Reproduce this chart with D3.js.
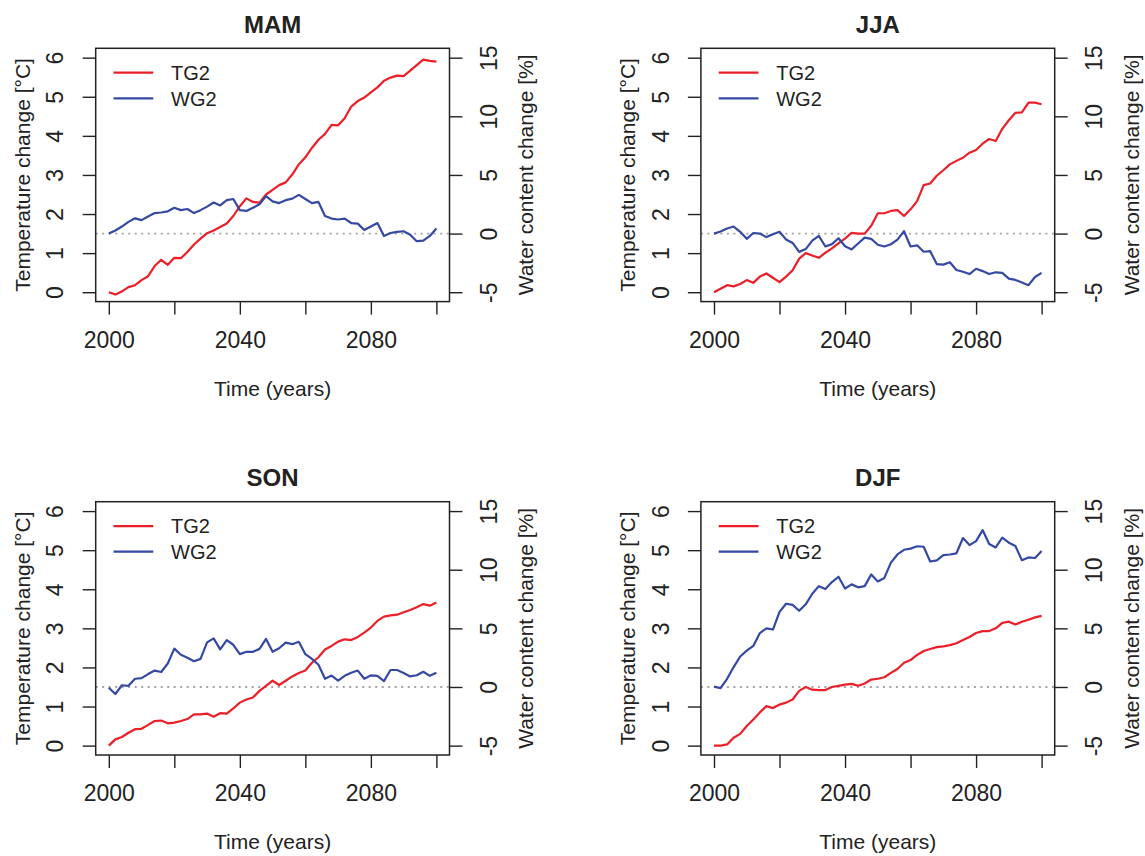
<!DOCTYPE html>
<html>
<head>
<meta charset="utf-8">
<script src="https://cdn.jsdelivr.net/npm/d3@7"></script>
<style>
  body { margin: 0; background: #fff; }
  svg { font-family: "Liberation Sans", Arial, sans-serif; }
</style>
</head>
<body>
<div id="chart"></div>
<script>

// years on the x axis (read every second year)
var years = [2000, 2002, 2004, 2006, 2008, 2010, 2012, 2014, 2016, 2018,
  2020, 2022, 2024, 2026, 2028, 2030, 2032, 2034, 2036, 2038,
  2040, 2042, 2044, 2046, 2048, 2050, 2052, 2054, 2056, 2058,
  2060, 2062, 2064, 2066, 2068, 2070, 2072, 2074, 2076, 2078,
  2080, 2082, 2084, 2086, 2088, 2090, 2092, 2094, 2096, 2098, 2100];

var seasons = ["MAM", "JJA", "SON", "DJF"];
var seriesNames = ["TG2", "WG2"];

// temperature change [°C]
var mamTG2 = [0.00, -0.06, 0.02, 0.13, 0.18, 0.31, 0.41, 0.67, 0.83, 0.70,
  0.88, 0.87, 1.03, 1.22, 1.37, 1.51, 1.58, 1.67, 1.76, 1.95,
  2.20, 2.40, 2.31, 2.29, 2.50, 2.62, 2.74, 2.81, 3.01, 3.27,
  3.45, 3.69, 3.90, 4.05, 4.28, 4.27, 4.45, 4.75, 4.89, 4.98,
  5.11, 5.24, 5.41, 5.49, 5.54, 5.53, 5.67, 5.81, 5.95, 5.92, 5.90];
var jjaTG2 = [0.00, 0.09, 0.18, 0.15, 0.21, 0.31, 0.24, 0.40, 0.48, 0.37,
  0.26, 0.40, 0.56, 0.86, 1.00, 0.94, 0.88, 1.01, 1.12, 1.25,
  1.37, 1.52, 1.50, 1.50, 1.70, 2.02, 2.02, 2.08, 2.10, 1.95,
  2.12, 2.33, 2.74, 2.78, 2.98, 3.12, 3.27, 3.36, 3.44, 3.57,
  3.64, 3.80, 3.92, 3.87, 4.18, 4.40, 4.59, 4.60, 4.85, 4.85, 4.81];
var sonTG2 = [0.00, 0.16, 0.22, 0.33, 0.42, 0.43, 0.53, 0.63, 0.64, 0.57,
  0.59, 0.63, 0.68, 0.80, 0.80, 0.82, 0.74, 0.83, 0.82, 0.95,
  1.10, 1.18, 1.23, 1.40, 1.53, 1.66, 1.55, 1.66, 1.77, 1.86,
  1.92, 2.12, 2.26, 2.46, 2.55, 2.66, 2.72, 2.70, 2.78, 2.89,
  3.02, 3.19, 3.30, 3.33, 3.35, 3.41, 3.47, 3.54, 3.62, 3.58, 3.66];
var djfTG2 = [0.00, 0.00, 0.03, 0.20, 0.30, 0.50, 0.67, 0.85, 1.01, 0.96,
  1.05, 1.10, 1.18, 1.40, 1.50, 1.43, 1.42, 1.42, 1.50, 1.53,
  1.56, 1.58, 1.53, 1.59, 1.69, 1.71, 1.75, 1.86, 1.96, 2.12,
  2.19, 2.32, 2.42, 2.47, 2.52, 2.54, 2.57, 2.62, 2.70, 2.78,
  2.88, 2.93, 2.93, 3.00, 3.14, 3.17, 3.10, 3.17, 3.22, 3.28, 3.32];

// water content change [%]
var mamWG2 = [0.0, 0.26, 0.6, 1.0, 1.3, 1.15, 1.45, 1.75, 1.8, 1.9,
  2.2, 2.0, 2.1, 1.75, 2.0, 2.3, 2.65, 2.4, 2.85, 2.95,
  2.0, 1.93, 2.2, 2.5, 3.2, 2.75, 2.6, 2.85, 2.98, 3.3,
  2.95, 2.6, 2.7, 1.5, 1.28, 1.2, 1.28, 0.9, 0.85, 0.3,
  0.6, 0.9, -0.2, 0.05, 0.14, 0.2, -0.1, -0.65, -0.6, -0.2, 0.43];
var jjaWG2 = [0.0, 0.18, 0.43, 0.6, 0.15, -0.45, 0.05, 0.0, -0.3, -0.05,
  0.15, -0.5, -0.8, -1.56, -1.32, -0.6, -0.2, -1.1, -0.9, -0.4,
  -1.08, -1.35, -0.85, -0.35, -0.45, -0.95, -1.1, -0.91, -0.51, 0.2,
  -1.1, -1.0, -1.55, -1.5, -2.6, -2.65, -2.45, -3.1, -3.25, -3.45,
  -3.0, -3.2, -3.45, -3.3, -3.35, -3.84, -3.95, -4.18, -4.4, -3.7, -3.35];
var sonWG2 = [-0.06, -0.6, 0.15, 0.1, 0.7, 0.75, 1.1, 1.4, 1.28, 2.0,
  3.27, 2.75, 2.5, 2.2, 2.4, 3.8, 4.15, 3.21, 4.0, 3.6,
  2.8, 3.0, 3.0, 3.25, 4.1, 3.0, 3.3, 3.78, 3.65, 3.85,
  2.8, 2.4, 1.9, 0.7, 0.97, 0.55, 0.95, 1.22, 1.4, 0.7,
  0.99, 0.95, 0.5, 1.45, 1.45, 1.2, 0.9, 1.0, 1.3, 0.95, 1.22];
var djfWG2 = [0.03, -0.1, 0.7, 1.7, 2.6, 3.1, 3.5, 4.6, 5.0, 4.9,
  6.4, 7.1, 7.0, 6.5, 7.05, 7.95, 8.6, 8.35, 8.95, 9.4,
  8.4, 8.75, 8.5, 8.6, 9.6, 9.0, 9.3, 10.6, 11.3, 11.7,
  11.8, 12.0, 11.96, 10.7, 10.8, 11.25, 11.3, 11.4, 12.7, 12.1,
  12.44, 13.38, 12.2, 11.9, 12.73, 12.3, 12.02, 10.8, 11.05, 11.0, 11.59];

var tempTicks = [0, 1, 2, 3, 4, 5, 6];
var waterTicks = [-5, 0, 5, 10, 15];
var yearTicks = [2000, 2020, 2040, 2060, 2080, 2100];
var yearLabels = [2000, 2040, 2080];

var tgBySeason = [mamTG2, jjaTG2, sonTG2, djfTG2];
var wgBySeason = [mamWG2, jjaWG2, sonWG2, djfWG2];

var width = 1145, height = 856;
var box = {left: 95.7, right: 449.5, top: 48.3, bottom: 301.6};
var colStep = 605.2, rowStep = 453.4;
var ink = "#222";
var red = "#ec1f28", blue = "#3549a3";

var svg = d3.select("#chart").append("svg")
  .attr("width", width)
  .attr("height", height);

// R style: axis range padded by 4% at each end
var x = d3.scaleLinear().domain([1996, 2104]).range([box.left, box.right]);
var yT = d3.scaleLinear().domain([-0.24, 6.24]).range([box.bottom, box.top]);
var yW = d3.scaleLinear().domain([-5.8, 15.8]).range([box.bottom, box.top]);

var tLine = function(vals) {
  return d3.line().x(function(d, i) { return x(years[i]); }).y(function(d) { return yT(d); })(vals);
};
var wLine = function(vals) {
  return d3.line().x(function(d, i) { return x(years[i]); }).y(function(d) { return yW(d); })(vals);
};

// plain hyphen minus, as R prints it
var plain = function(d) { return String(d); };

function styleAxis(ax) {
  ax.attr("font-family", null).attr("font-size", null);
  ax.select(".domain").remove();
  ax.selectAll(".tick line").attr("stroke", ink).attr("stroke-width", 1.4);
  ax.selectAll(".tick text").attr("fill", ink).attr("font-size", 23);
}

seasons.forEach(function(season, i) {

  var g = svg.append("g")
    .attr("transform", "translate(" + (i % 2) * colStep + "," + Math.floor(i / 2) * rowStep + ")");

  // zero line of the water axis
  g.append("line")
    .attr("x1", box.left).attr("x2", box.right)
    .attr("y1", yW(0)).attr("y2", yW(0))
    .attr("stroke", "#a3a3a3")
    .attr("stroke-width", 1.8)
    .attr("stroke-dasharray", "2,4.5");

  g.append("path")
    .attr("d", tLine(tgBySeason[i]))
    .attr("fill", "none").attr("stroke", red).attr("stroke-width", 2.2)
    .attr("stroke-linejoin", "round");

  g.append("path")
    .attr("d", wLine(wgBySeason[i]))
    .attr("fill", "none").attr("stroke", blue).attr("stroke-width", 2.2)
    .attr("stroke-linejoin", "round");

  g.append("rect")
    .attr("x", box.left).attr("y", box.top)
    .attr("width", box.right - box.left).attr("height", box.bottom - box.top)
    .attr("fill", "none").attr("stroke", ink).attr("stroke-width", 1.5);

  // bottom axis
  var bx = g.append("g").attr("transform", "translate(0," + box.bottom + ")")
    .call(d3.axisBottom(x).tickValues(yearTicks).tickSize(13).tickSizeOuter(0)
      .tickFormat(function(d) { return yearLabels.indexOf(d) >= 0 ? d : ""; }));
  styleAxis(bx);
  bx.selectAll(".tick text").attr("y", 46).attr("dy", 0);

  // left axis (labels parallel to the axis)
  var lx = g.append("g").attr("transform", "translate(" + box.left + ",0)")
    .call(d3.axisLeft(yT).tickValues(tempTicks).tickSize(13).tickSizeOuter(0).tickFormat(plain));
  styleAxis(lx);
  lx.selectAll(".tick text")
    .attr("x", 0).attr("dy", 0)
    .attr("text-anchor", "middle")
    .attr("transform", "translate(-32.4,0) rotate(-90)");

  // right axis
  var rx = g.append("g").attr("transform", "translate(" + box.right + ",0)")
    .call(d3.axisRight(yW).tickValues(waterTicks).tickSize(13).tickSizeOuter(0).tickFormat(plain));
  styleAxis(rx);
  rx.selectAll(".tick text")
    .attr("x", 0).attr("dy", 0)
    .attr("text-anchor", "middle")
    .attr("transform", "translate(47.2,0) rotate(-90)");

  var midX = (box.left + box.right) / 2;
  var midY = (box.top + box.bottom) / 2;

  g.append("text").attr("class", "title")
    .attr("x", midX).attr("y", 32.7)
    .attr("text-anchor", "middle")
    .attr("font-size", 24).attr("font-weight", "bold").attr("fill", ink)
    .text(season);

  g.append("text")
    .attr("x", midX).attr("y", 396)
    .attr("text-anchor", "middle")
    .attr("font-size", 21).attr("fill", ink)
    .text("Time (years)");

  g.append("text")
    .attr("transform", "translate(30," + midY + ") rotate(-90)")
    .attr("text-anchor", "middle")
    .attr("font-size", 21).attr("fill", ink)
    .text("Temperature change [°C]");

  g.append("text")
    .attr("transform", "translate(533.3," + midY + ") rotate(-90)")
    .attr("text-anchor", "middle")
    .attr("font-size", 21).attr("fill", ink)
    .text("Water content change [%]");

  // legend
  var legend = g.selectAll(".legend")
    .data(seriesNames)
    .enter()
    .append("g")
    .attr("class", "legend")
    .attr("transform", function(d, k) { return "translate(0," + (72.7 + k * 25.6) + ")"; });

  legend.append("line")
    .attr("x1", 113.5).attr("x2", 153.3)
    .attr("stroke", function(d, k) { return k === 0 ? red : blue; })
    .attr("stroke-width", 2.2);

  legend.append("text")
    .attr("x", 171).attr("y", 7.2)
    .attr("font-size", 20).attr("fill", ink)
    .text(function(d) { return d; });

});

</script>
</body>
</html>
